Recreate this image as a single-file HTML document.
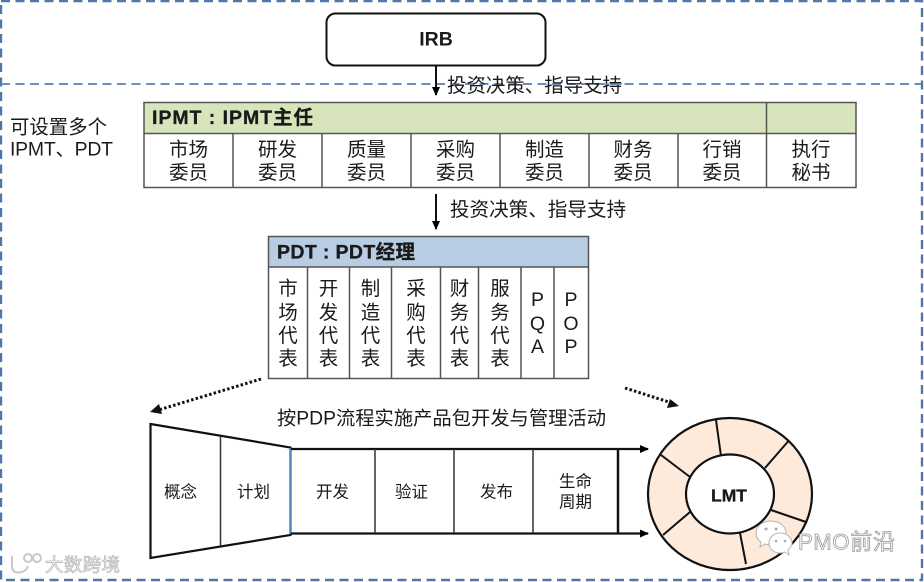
<!DOCTYPE html>
<html><head><meta charset="utf-8">
<style>
html,body{margin:0;padding:0;background:#fff;width:924px;height:582px;overflow:hidden}
svg{display:block}
text{font-family:"Liberation Sans","Noto Sans CJK SC",sans-serif;fill:#1a1a1a;dominant-baseline:central}
.c{font-size:19.5px;text-anchor:middle}
.s{font-size:16.5px;text-anchor:middle}
.b{font-weight:bold}
</style></head><body>
<svg width="924" height="582" viewBox="0 0 924 582" xmlns="http://www.w3.org/2000/svg">
<defs>
<marker id="a" markerWidth="10" markerHeight="10" refX="8" refY="4" orient="auto" markerUnits="userSpaceOnUse"><path d="M0 0L9 4L0 8Z" fill="#000"/></marker>
</defs>
<!-- dashed frames -->
<g fill="none" stroke="#4f78a8" stroke-width="2.4" stroke-dasharray="9 5.5">
<rect x="1" y="1" width="921" height="579"/>
<path d="M1 84H921" stroke="#6a90bb" stroke-width="2"/>
</g>
<!-- IRB -->
<rect x="326.500" y="13.500" width="219" height="52" rx="9" fill="#fff" stroke="#111" stroke-width="2"/>
<text x="436" y="39.500" font-size="19.500" text-anchor="middle" class="b">IRB</text>
<path d="M436 66V95" stroke="#111" stroke-width="2" marker-end="url(#a)"/>
<text x="447" y="86" font-size="19.400" textLength="175" lengthAdjust="spacingAndGlyphs">投资决策、指导支持</text>
<path d="M600 84H622" stroke="#6a90bb" stroke-width="1.500" stroke-dasharray="9 5.500"/>
<!-- left label -->
<text x="10" y="127.500" font-size="19.400" textLength="97">可设置多个</text>
<text x="10" y="149.500" font-size="19.400" textLength="103">IPMT、PDT</text>
<!-- IPMT -->
<rect x="144" y="102.500" width="712" height="31" fill="#d7e4bc"/>
<g fill="none" stroke="#555" stroke-width="1.500">
<rect x="144" y="102.500" width="712" height="85"/>
<path d="M144 133.500H856M766.500 102.500V187.500M233 133.500V187.500M322 133.500V187.500M411 133.500V187.500M500 133.500V187.500M589 133.500V187.500M678 133.500V187.500"/>
</g>
<text x="152" y="118" font-size="19.500" class="b" textLength="161" stroke="#1a1a1a" stroke-width=".3">IPMT : IPMT主任</text>
<g class="c">
<text class="c" x="188.500" y="150">市场</text><text class="c" x="188.500" y="173">委员</text>
<text class="c" x="277.500" y="150">研发</text><text class="c" x="277.500" y="173">委员</text>
<text class="c" x="366.500" y="150">质量</text><text class="c" x="366.500" y="173">委员</text>
<text class="c" x="455.500" y="150">采购</text><text class="c" x="455.500" y="173">委员</text>
<text class="c" x="544.500" y="150">制造</text><text class="c" x="544.500" y="173">委员</text>
<text class="c" x="633" y="150">财务</text><text class="c" x="633" y="173">委员</text>
<text class="c" x="722" y="150">行销</text><text class="c" x="722" y="173">委员</text>
<text class="c" x="811" y="150">执行</text><text class="c" x="811" y="173">秘书</text>
</g>
<path d="M436 194V229" stroke="#111" stroke-width="2" marker-end="url(#a)"/>
<text x="450" y="210" font-size="19.400" textLength="176" lengthAdjust="spacingAndGlyphs">投资决策、指导支持</text>
<!-- PDT -->
<rect x="268" y="236" width="320" height="31" fill="#b8cce4"/>
<g fill="none" stroke="#555" stroke-width="1.500">
<rect x="268.500" y="236.500" width="320" height="142"/>
<path d="M268 267H588M307.500 267V378M349.500 267V378M391.500 267V378M440.500 267V378M478.500 267V378M521 267V378M554 267V378"/>
</g>
<text x="277" y="252.500" font-size="19.500" class="b" textLength="138" stroke="#1a1a1a" stroke-width=".3">PDT : PDT经理</text>
<text class="c" x="288" y="289">市</text><text class="c" x="288" y="313">场</text><text class="c" x="288" y="336">代</text><text class="c" x="288" y="359">表</text>
<text class="c" x="328.500" y="289">开</text><text class="c" x="328.500" y="313">发</text><text class="c" x="328.500" y="336">代</text><text class="c" x="328.500" y="359">表</text>
<text class="c" x="370.500" y="289">制</text><text class="c" x="370.500" y="313">造</text><text class="c" x="370.500" y="336">代</text><text class="c" x="370.500" y="359">表</text>
<text class="c" x="416" y="289">采</text><text class="c" x="416" y="313">购</text><text class="c" x="416" y="336">代</text><text class="c" x="416" y="359">表</text>
<text class="c" x="459.500" y="289">财</text><text class="c" x="459.500" y="313">务</text><text class="c" x="459.500" y="336">代</text><text class="c" x="459.500" y="359">表</text>
<text class="c" x="500" y="289">服</text><text class="c" x="500" y="313">务</text><text class="c" x="500" y="336">代</text><text class="c" x="500" y="359">表</text>
<text class="c" x="537.500" y="300">P</text><text class="c" x="537.500" y="324">Q</text><text class="c" x="537.500" y="347">A</text>
<text class="c" x="571" y="300">P</text><text class="c" x="571" y="324">O</text><text class="c" x="571" y="347">P</text>
<!-- dotted arrows -->
<path d="M261 379L155 411" stroke="#111" stroke-width="3" stroke-dasharray="2.500 2.200" fill="none"/>
<path d="M159 404L150 412L162 414Z" fill="#111"/>
<path d="M625 388L672 403" stroke="#111" stroke-width="3" stroke-dasharray="2.500 2.200" fill="none"/>
<path d="M670 399L679 406L667 408Z" fill="#111"/>
<text x="277" y="419" font-size="19" textLength="329" lengthAdjust="spacingAndGlyphs">按PDP流程实施产品包开发与管理活动</text>
<!-- funnel -->
<path d="M150.500 424L290.500 447.500V535L150.500 558Z" fill="#fff" stroke="#111" stroke-width="2.200"/>
<path d="M220.500 436V546" stroke="#333" stroke-width="1.500"/>
<path d="M290.500 448V534" stroke="#5b85c0" stroke-width="1.800"/>
<!-- process band -->
<path d="M291 449H648" stroke="#111" stroke-width="2.200" marker-end="url(#a)"/>
<path d="M291 533.500H648" stroke="#111" stroke-width="2.200" marker-end="url(#a)"/>
<path d="M375 449V533M454 449V533M533 449V533" stroke="#333" stroke-width="1.500"/>
<path d="M618 449V533" stroke="#111" stroke-width="2.500"/>
<text class="s" x="180.500" y="492.500">概念</text>
<text class="s" x="253.500" y="492.500">计划</text>
<text class="s" x="332.500" y="492.500">开发</text>
<text class="s" x="411.500" y="492.500">验证</text>
<text class="s" x="496.500" y="492.500">发布</text>
<text class="s" x="575.500" y="482">生命</text>
<text class="s" x="575.500" y="502.500">周期</text>
<!-- ring -->
<ellipse cx="730" cy="494" rx="82" ry="76" fill="#fdeada" stroke="#111" stroke-width="2.200"/>
<path d="M716 420L721 456M788 441.500L765 468M806 522L771 510M746 564L740 533M663 535L690 512M661 455L690 477" stroke="#111" stroke-width="2" fill="none"/>
<ellipse cx="730" cy="494" rx="44" ry="39.500" fill="#fff" stroke="#111" stroke-width="2.200"/>
<text x="729" y="495.500" font-size="17.500" class="b" text-anchor="middle" stroke="#1a1a1a" stroke-width=".3">LMT</text>
<!-- watermarks -->
<g fill="#fff" stroke="#b5b5b5" stroke-width="1">
<path d="M771 521C763 521 756 526 756 533C756 537 758 540 761 542L760 547L765 544C767 545 769 545 771 545C779 545 786 540 786 533C786 526 779 521 771 521Z"/>
<path d="M780 533C773 533 769 538 769 543C769 549 774 553 780 553C782 553 783 553 785 552L789 555L788 550C790 548 792 546 792 543C792 538 787 533 780 533Z"/>
</g>
<g fill="#aaa"><circle cx="766" cy="529" r="1.500"/><circle cx="776" cy="529" r="1.500"/><circle cx="776" cy="541" r="1.300"/><circle cx="785" cy="541" r="1.300"/></g>
<text x="798" y="542" font-size="22" textLength="97" style="fill:#fff;stroke:#999;stroke-width:.8px">PMO前沿</text>
<g fill="none" stroke="#c8c8c8" stroke-width="2">
<path d="M12 556V568Q14 574 22 572Q27 570 28 566"/>
<circle cx="28" cy="558" r="4"/><circle cx="37" cy="558" r="4"/>
</g>
<text x="45" y="565" font-size="18.500" textLength="75" style="fill:#fff;stroke:#bbb;stroke-width:.8px">大数跨境</text>
</svg>
</body></html>
